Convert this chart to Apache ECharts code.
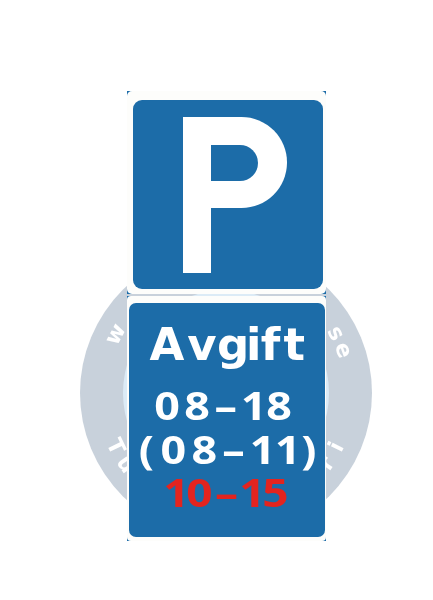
<!DOCTYPE html>
<html>
<head>
<meta charset="utf-8">
<style>
  html, body { margin: 0; padding: 0; background: #fff; }
  #main { width: 433px; height: 600px; }
</style>
<script src="https://cdn.jsdelivr.net/npm/echarts@6/dist/echarts.min.js"></script>
</head>
<body>
<div id="main"></div>
<script>
// texts on the lower sign
var signLines = ['Avgift', '08–18', '(08–11)', '10–15'];
var lineColors = ['#ffffff', '#ffffff', '#ffffff', '#e3241f'];
// watermark letters that show round the sign (angle in degrees on the ring)
var topGlyphs = ['w', 's', 'e'];
var topAngles = [152, 28.5, 20];
var bottomGlyphs = ['T', 'u', 'r', 'i'];
var bottomAngles = [206, 215.5, 325, 334];

// layout
var lineFonts = ['"DejaVu Sans"', '"Noto Sans"', '"Noto Sans"', '"Noto Sans"'];
var lineSizes = [45, 39, 39, 40];
var lineScaleX = [1, 1.15, 1.15, 1.15];
var lineWidths = [155, 135, 175, 122];   // visible ink width
var lineCenters = [[227, 347], [223, 410], [227.5, 454], [226.5, 497]]; // cx, cap middle
var ring = { cx: 226, cy: 393, r: 146, r0: 103, textR: 124 };
var BLUE = '#1c6ca8';
var FONT = '"DejaVu Sans", sans-serif';

var chart = echarts.init(document.getElementById('main'));
var ctx = document.createElement('canvas').getContext('2d');

// draw a word letter by letter, even gaps between the inks, over a given width
function spacedText(str, cx, capMid, size, width, color, family, sx) {
  ctx.font = 'bold ' + size + 'px ' + family;
  ctx.textAlign = 'left';
  var chars = str.split('');
  var m = chars.map(function (c) { return ctx.measureText(c); });
  var ink = m.reduce(function (a, t) { return a + sx * (t.actualBoundingBoxLeft + t.actualBoundingBoxRight); }, 0);
  var gap = chars.length > 1 ? (width - ink) / (chars.length - 1) : 0;
  // cap middle -> 'middle' anchor offset
  var cap = ctx.measureText('H');
  var mid = (cap.fontBoundingBoxAscent - cap.fontBoundingBoxDescent) / 2;
  var y = capMid + cap.actualBoundingBoxAscent / 2 - mid;
  var cur = cx - width / 2;
  return chars.map(function (c, i) {
    var t = m[i];
    var el = {
      type: 'text', x: cur + sx * (t.width / 2 + t.actualBoundingBoxLeft), y: y, z: 20,
      scaleX: sx,
      style: {
        text: c, fill: color, fontSize: size, fontWeight: 'bold',
        fontFamily: family, align: 'center', verticalAlign: 'middle'
      }
    };
    cur += sx * (t.actualBoundingBoxLeft + t.actualBoundingBoxRight) + gap;
    return el;
  });
}

function ringGlyph(c, deg, onTop) {
  var t = deg * Math.PI / 180;
  return {
    type: 'text',
    x: ring.cx + ring.textR * Math.cos(t),
    y: ring.cy - ring.textR * Math.sin(t),
    rotation: onTop ? t - Math.PI / 2 : t + Math.PI / 2,
    z: 3,
    style: {
      text: c, fill: '#ffffff', fontSize: 22, fontWeight: 'bold',
      fontFamily: FONT, align: 'center', verticalAlign: 'middle'
    }
  };
}

var elements = [
  // watermark
  { type: 'circle', z: 1, shape: { cx: ring.cx, cy: ring.cy, r: ring.r }, style: { fill: '#c8d1db' } },
  { type: 'circle', z: 2, shape: { cx: ring.cx, cy: ring.cy, r: ring.r0 }, style: { fill: '#dcebf6' } },

  // upper plate
  { type: 'rect', z: 10, shape: { x: 127, y: 91, width: 199, height: 203 }, style: { fill: BLUE } },
  { type: 'rect', z: 11, shape: { x: 127, y: 91, width: 199, height: 203, r: 5 }, style: { fill: '#fdfdfb' } },
  { type: 'rect', z: 12, shape: { x: 133, y: 100, width: 190, height: 189, r: 9 }, style: { fill: BLUE } },
  // the P
  { type: 'rect', z: 13, shape: { x: 183, y: 117, width: 28, height: 156 }, style: { fill: '#ffffff' } },
  { type: 'rect', z: 13, shape: { x: 183, y: 117, width: 104, height: 91, r: [0, 45.5, 45.5, 0] }, style: { fill: '#ffffff' } },
  { type: 'rect', z: 14, shape: { x: 211, y: 145, width: 47, height: 36, r: [0, 18, 18, 0] }, style: { fill: BLUE } },

  // lower plate
  { type: 'rect', z: 10, shape: { x: 127, y: 296, width: 199, height: 245 }, style: { fill: BLUE } },
  { type: 'rect', z: 11, shape: { x: 127, y: 296, width: 199, height: 245, r: 4 }, style: { fill: '#fdfdfb' } },
  { type: 'rect', z: 12, shape: { x: 129, y: 303, width: 196, height: 234, r: 7 }, style: { fill: BLUE } }
];

topGlyphs.forEach(function (c, i) { elements.push(ringGlyph(c, topAngles[i], true)); });
bottomGlyphs.forEach(function (c, i) { elements.push(ringGlyph(c, bottomAngles[i], false)); });

signLines.forEach(function (s, i) {
  elements = elements.concat(spacedText(s, lineCenters[i][0], lineCenters[i][1],
    lineSizes[i], lineWidths[i], lineColors[i], lineFonts[i], lineScaleX[i]));
});

chart.setOption({
  backgroundColor: '#ffffff',
  animation: false,
  graphic: { elements: elements }
});
</script>
</body>
</html>
